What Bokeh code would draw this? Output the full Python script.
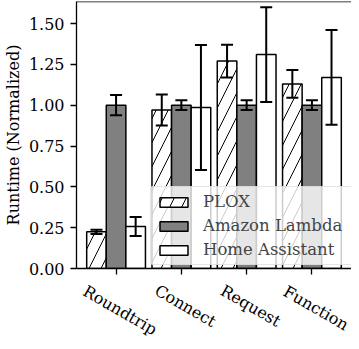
import math
from bokeh.plotting import figure
from bokeh.layouts import column
from bokeh.models import (ColumnDataSource, Whisker, TeeHead, FixedTicker, Range1d,
                          Legend, LegendItem, Span, NumeralTickFormatter)
from bokeh.core.properties import value
from bokeh.transform import dodge
from bokeh.embed import file_html
from bokeh.resources import INLINE

# ---- data ----
categories = ["Roundtrip", "Connect", "Request", "Function"]
series_names = ["PLOX", "Amazon Lambda", "Home Assistant"]
plox = [0.225, 0.97, 1.27, 1.13]
plox_err = [0.013, 0.095, 0.10, 0.085]
aws_lambda = [1.0, 1.0, 1.0, 1.0]
aws_lambda_err = [0.062, 0.03, 0.03, 0.03]
home_assistant = [0.257, 0.986, 1.31, 1.17]
home_assistant_err = [0.058, 0.383, 0.29, 0.29]
y_ticks = [0.0, 0.25, 0.5, 0.75, 1.0, 1.25, 1.5]

FONT = "DejaVu Serif"
BAR_W = 0.3
PX_PER_UNIT = 66.0

W = 351
LEFT, TOP, FRAME_H, AX_B = 73, 1, 267, 11
H1 = TOP + FRAME_H + AX_B
H2 = 341 - H1
frame_w = W - LEFT
x_start = -(121 - (8 + LEFT)) / PX_PER_UNIT
x_end = x_start + frame_w / PX_PER_UNIT
y_end = FRAME_H / 163.3

p1 = figure(width=W, height=H1, output_backend="svg", toolbar_location=None,
            x_range=Range1d(x_start, x_end), y_range=Range1d(0, y_end),
            min_border_left=LEFT, min_border_right=0, min_border_top=TOP,
            min_border_bottom=AX_B)
p1.outline_line_color = None
p1.grid.visible = False

xs = list(range(len(categories)))
src = ColumnDataSource(dict(
    x=xs,
    plox=plox, plox_lo=[v - e for v, e in zip(plox, plox_err)], plox_hi=[v + e for v, e in zip(plox, plox_err)],
    lam=aws_lambda, lam_lo=[v - e for v, e in zip(aws_lambda, aws_lambda_err)], lam_hi=[v + e for v, e in zip(aws_lambda, aws_lambda_err)],
    ha=home_assistant, ha_lo=[v - e for v, e in zip(home_assistant, home_assistant_err)], ha_hi=[v + e for v, e in zip(home_assistant, home_assistant_err)],
))

r1 = p1.vbar(x=dodge("x", -BAR_W, range=p1.x_range), top="plox", width=BAR_W, source=src,
             fill_color="white", line_color="black", line_width=1.5,
             hatch_pattern="/", hatch_color="black", hatch_weight=1, hatch_scale=24)
r2 = p1.vbar(x=dodge("x", 0, range=p1.x_range), top="lam", width=BAR_W, source=src,
             fill_color="#808080", line_color="black", line_width=1.5)
r3 = p1.vbar(x=dodge("x", BAR_W, range=p1.x_range), top="ha", width=BAR_W, source=src,
             fill_color="white", line_color="black", line_width=1.5)

for off, lo, hi in [(-BAR_W, "plox_lo", "plox_hi"), (0, "lam_lo", "lam_hi"), (BAR_W, "ha_lo", "ha_hi")]:
    w = Whisker(source=src, base=dodge("x", off, range=p1.x_range), lower=lo, upper=hi,
                line_width=2, line_color="black", level="annotation",
                upper_head=TeeHead(size=12, line_width=2, line_color="black"),
                lower_head=TeeHead(size=12, line_width=2, line_color="black"))
    p1.add_layout(w)

# top border
p1.add_layout(Span(location=y_end, dimension="width", line_color="black", line_width=1.3))

# x axis: ticks only (labels drawn in the strip below)
xa = p1.xaxis[0]
xa.ticker = FixedTicker(ticks=xs)
xa.major_label_overrides = {i: "" for i in xs}
xa.major_label_text_font_size = "0px"
xa.major_label_standoff = 0
xa.major_tick_out = 6
xa.major_tick_in = 0
xa.minor_tick_line_color = None
xa.axis_line_width = 1.3
xa.major_tick_line_width = 1.3

ya = p1.yaxis[0]
ya.ticker = FixedTicker(ticks=y_ticks)
ya.formatter = NumeralTickFormatter(format="0.00")
ya.major_label_text_font = FONT
ya.major_label_text_font_size = "16px"
ya.major_label_text_color = "black"
ya.major_tick_out = 6
ya.major_tick_in = 0
ya.minor_tick_line_color = None
ya.axis_line_width = 1.3
ya.major_tick_line_width = 1.3
ya.major_label_standoff = 6
ya.axis_label = "Runtime (Normalized)"
ya.axis_label_text_font = FONT
ya.axis_label_text_font_size = "16px"
ya.axis_label_text_font_style = "normal"
ya.axis_label_text_color = "black"
ya.axis_label_standoff = 3

legend = Legend(items=[LegendItem(label=n, renderers=[r]) for n, r in zip(series_names, [r1, r2, r3])],
                location=(74, 3), orientation="vertical",
                label_text_font=FONT, label_text_font_size="16.5px",
                glyph_width=35, glyph_height=12, label_standoff=12, label_width=144,
                spacing=5, padding=5, margin=0,
                border_line_color="#cccccc", border_line_width=1,
                background_fill_color="white", background_fill_alpha=0.8)
legend.border_radius = 3
p1.add_layout(legend)

# strip with rotated category labels, centred under each tick
ANG = math.pi / 6
FS = 16
p2 = figure(width=W, height=H2, output_backend="svg", toolbar_location=None,
            x_range=p1.x_range, y_range=Range1d(0, H2),
            min_border_left=LEFT, min_border_right=0, min_border_top=0, min_border_bottom=0,
            x_axis_location=None, y_axis_location=None)
p2.outline_line_color = None
p2.grid.visible = False
lab_y = [H2 - 3 - (len(c) * 0.56 * FS * math.sin(ANG) + FS * 1.1 * math.cos(ANG)) / 2 for c in categories]
p2.text(x=xs, y=lab_y, text=categories, angle=-ANG, text_align="center", text_baseline="middle",
        x_offset=4, text_font=value(FONT), text_font_size=value(f"{FS}px"), text_color="black")

layout = column(p1, p2, spacing=0)
open("out.html", "w").write(file_html(layout, INLINE))
